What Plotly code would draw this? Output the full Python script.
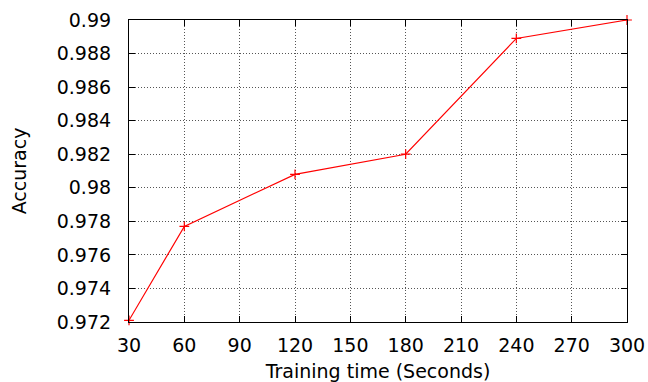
import plotly.graph_objects as go

train_time = [30, 60, 120, 180, 240, 300]
accuracy = [0.9721, 0.9777, 0.9808, 0.9820, 0.9889, 0.9900]

x_ticks = [30, 60, 90, 120, 150, 180, 210, 240, 270, 300]
y_ticks = [0.972, 0.974, 0.976, 0.978, 0.98, 0.982, 0.984, 0.986, 0.988, 0.99]
y_tick_labels = ["0.972", "0.974", "0.976", "0.978", "0.98", "0.982", "0.984", "0.986", "0.988", "0.99"]

fig = go.Figure()
fig.add_trace(go.Scatter(
    x=train_time, y=accuracy, mode="lines+markers",
    line=dict(color="#ff0000", width=1.2),
    marker=dict(symbol="cross-thin", size=7, color="#ff0000",
                line=dict(color="#ff0000", width=1.2)),
    cliponaxis=False, showlegend=False,
))

font = dict(family="DejaVu Sans, Liberation Sans, sans-serif", size=19, color="black")
fig.update_layout(
    width=648, height=382,
    margin=dict(l=128.5, r=20.5, t=19.5, b=59.5),
    paper_bgcolor="white", plot_bgcolor="white",
    font=font,
)
axis_common = dict(
    showline=True, linecolor="black", linewidth=1.2, mirror="ticks",
    ticks="inside", ticklen=6, tickwidth=1.2, tickcolor="black",
    showgrid=True, gridcolor="#555555", griddash="1px,2px", gridwidth=1,
    zeroline=False, tickfont=font, automargin=False,
)
fig.update_xaxes(
    range=[30, 300], tickvals=x_ticks, ticktext=[str(v) for v in x_ticks],
    title=dict(text="Training time (Seconds)", font=font, standoff=10),
    ticklabelstandoff=6,
    **axis_common,
)
fig.update_yaxes(
    range=[0.972, 0.99], tickvals=y_ticks, ticktext=y_tick_labels,
    title=dict(text="Accuracy", font=font, standoff=25),
    ticklabelstandoff=13,
    **axis_common,
)

fig.write_html(
    "out.html",
    config={"displayModeBar": False},
    post_script="document.body.style.margin='0';document.body.style.overflow='hidden';",
)
